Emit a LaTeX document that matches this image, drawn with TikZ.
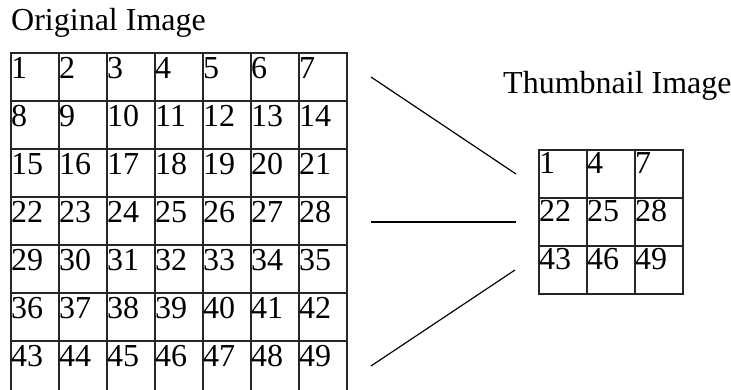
\documentclass[tikz,border=0pt]{standalone}
\usepackage{fontspec}
\setmainfont{Liberation Serif}
\begin{document}
\begin{tikzpicture}[x=1pt,y=-1pt,
  gridline/.style={line width=1.7pt,line cap=rect,draw=black!85},
  conn/.style={line width=1.2pt},
  celltext/.style={anchor=base west,inner sep=0pt,font=\fontsize{32}{32}\selectfont},
  titletext/.style={anchor=base west,inner sep=0pt,font=\fontsize{32}{32}\selectfont}]
\useasboundingbox (0,0) rectangle (731,389);
% titles
\node[titletext] (t1) at (11,30) {Original Image};
\node[titletext] (t2) at (503,93) {Thumbnail Image};
% original grid
\begin{scope}
\clip (0,0) rectangle (731,389);
\foreach \i in {0,...,7} \draw[gridline] (11+48*\i,53) -- (11+48*\i,395);
\foreach \j in {0,...,6} \draw[gridline] (11,53+48*\j) -- (347,53+48*\j);
\end{scope}
\foreach \r in {0,...,6} \foreach \c in {0,...,6} {
  \pgfmathtruncatemacro{\n}{7*\r+\c+1}
  \node[celltext] (o\n) at (11+48*\c,78+48*\r) {\n};
}
% thumbnail grid
\foreach \i in {0,...,3} \draw[gridline] (539+48*\i,150) -- (539+48*\i,294);
\foreach \j in {0,...,3} \draw[gridline] (539,150+48*\j) -- (683,150+48*\j);
\foreach \r/\row in {0/{1,4,7},1/{22,25,28},2/{43,46,49}} {
  \foreach \v [count=\c from 0] in \row {
    \node[celltext] (th\v) at (539+48*\c,173+48*\r) {\v};
  }
}
% connectors
\coordinate (a1) at (371,77);
\coordinate (b1) at (516,174);
\coordinate (a2) at (371,222);
\coordinate (b2) at (516,222);
\coordinate (a3) at (371,366);
\coordinate (b3) at (515,270);
\draw[conn] (a1) -- (b1);
\draw[conn] (a2) -- (b2);
\draw[conn] (a3) -- (b3);
\end{tikzpicture}
\end{document}
